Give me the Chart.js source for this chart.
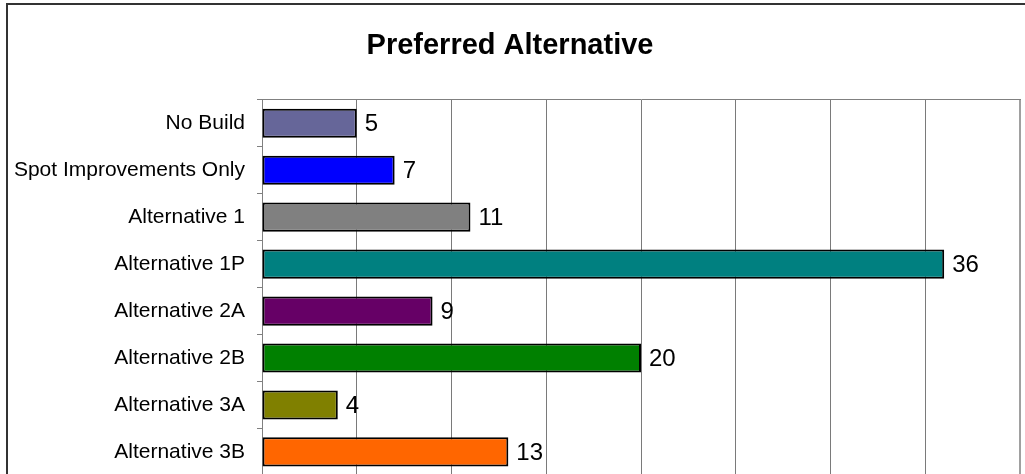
<!DOCTYPE html>
<html>
<head>
<meta charset="utf-8">
<script src="https://cdn.jsdelivr.net/npm/chart.js@4"></script>
<style>
    html, body { margin: 0; padding: 0; background: #fff; overflow: hidden; }
    #wrap { position: absolute; left: 0; top: 0; width: 1025px; height: 500px; }
    #frame { position: absolute; left: 6px; top: 3px; width: 1100px; height: 600px;
             border-left: 2px solid #333; border-top: 2px solid #333; pointer-events: none; }
</style>
</head>
<body>
<div id="wrap"><canvas id="mainChart" width="1025" height="500"></canvas></div>
<div id="frame"></div>
<script>
// Data
const categories = ['No Build', 'Spot Improvements Only', 'Alternative 1', 'Alternative 1P',
    'Alternative 2A', 'Alternative 2B', 'Alternative 3A', 'Alternative 3B'];
const votes = [5, 7, 11, 36, 9, 20, 4, 13];
const barColors = ['#666699', '#0000FF', '#808080', '#008080', '#660066', '#008000', '#808000', '#FF6600'];
const axisMin = 0;
const axisMax = 40;
const axisStep = 5;

// value labels at the end of each bar
const valueLabels = {
    id: 'valueLabels',
    afterDatasetsDraw(chart) {
        const c = chart.ctx;
        const meta = chart.getDatasetMeta(0);
        c.save();
        c.font = '24px "Liberation Sans", Arial, sans-serif';
        c.fillStyle = '#000';
        c.textBaseline = 'middle';
        c.textAlign = 'left';
        meta.data.forEach((bar, i) => {
            c.fillText(String(votes[i]), bar.x + 8, bar.y + 1);
        });
        c.restore();
    }
};

const ctx = document.getElementById('mainChart').getContext('2d');
new Chart(ctx, {
    type: 'bar',
    data: {
        labels: categories,
        datasets: [{
            data: votes,
            backgroundColor: barColors,
            borderColor: '#000',
            borderWidth: 2,
            borderSkipped: false,
            categoryPercentage: 1.0,
            barPercentage: 0.62
        }]
    },
    options: {
        indexAxis: 'y',
        responsive: false,
        animation: false,
        layout: { padding: { left: 0, right: 5, top: 0, bottom: 20 } },
        scales: {
            x: {
                position: 'top',
                min: axisMin,
                max: axisMax,
                ticks: { display: false, stepSize: axisStep },
                grid: {
                    color: ctx => ctx.tick && ctx.tick.value === axisMax ? '#a0a0a0' : '#7a7a7a',
                    lineWidth: ctx => ctx.tick && ctx.tick.value === axisMax ? 2 : 1,
                    drawTicks: false
                },
                border: { display: true, color: '#808080', width: 1 },
                afterFit: s => { s.height = 0; }
            },
            y: {
                ticks: {
                    color: '#000',
                    padding: 12,
                    font: { family: '"Liberation Sans", Arial, sans-serif', size: 21 }
                },
                grid: { drawOnChartArea: false, drawTicks: true, tickLength: 5, color: '#808080' },
                border: { display: true, color: '#808080', width: 1 },
                afterFit: s => { s.width = 262; }
            }
        },
        plugins: {
            legend: { display: false },
            tooltip: { enabled: false },
            title: {
                display: true,
                text: 'Preferred Alternative',
                color: '#000',
                font: { family: '"Liberation Sans", Arial, sans-serif', size: 29, weight: 'bold' },
                padding: { top: 29, bottom: 36 }
            }
        }
    },
    plugins: [valueLabels]
});
</script>
</body>
</html>
